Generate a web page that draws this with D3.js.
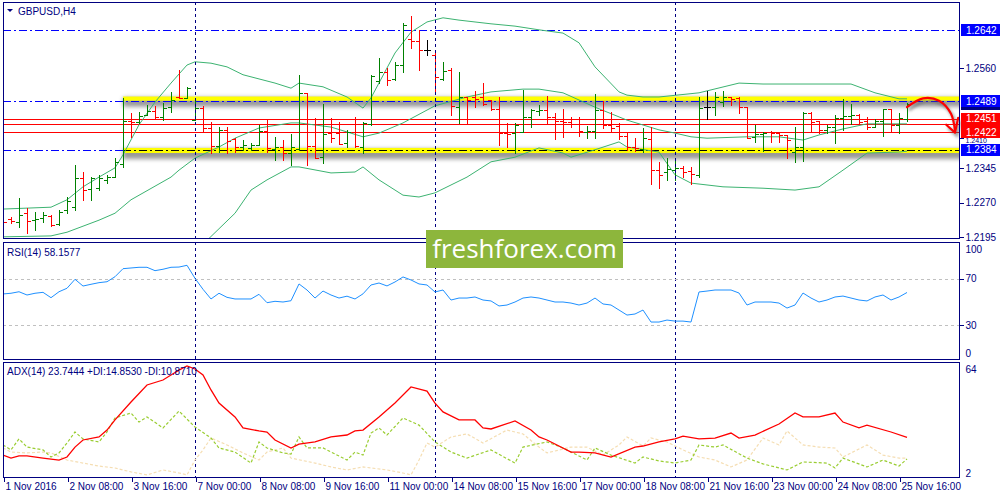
<!DOCTYPE html>
<html><head><meta charset="utf-8">
<script src="https://cdn.jsdelivr.net/npm/d3@7"></script>
<style>
body{margin:0;background:#fff}
svg{display:block}
text{font-family:"Liberation Sans",Arial,sans-serif;font-size:10px}
</style>
</head><body>
<svg id="c" width="1000" height="500"></svg>
<script>
// ---------- DATA ----------
const symbol = "GBPUSD,H4";
const opens = [1.2230,1.2234,1.2228,1.2247,1.2232,1.2237,1.2241,1.2224,1.2254,1.2260,
1.2323,1.2299,1.2301,1.2319,1.2325,1.2353,1.2446,1.2444,1.2459,1.2468,
1.2455,1.2476,1.2498,1.2496,1.2448,1.2474,1.2431,1.2392,1.2427,1.2407,
1.2390,1.2388,1.2394,1.2425,1.2386,1.2390,1.2377,1.2386,1.2507,1.2392,
1.2368,1.2420,1.2420,1.2399,1.2422,1.2390,1.2440,1.2533,1.2552,1.2537,
1.2567,1.2623,1.2619,1.2600,1.2589,1.2537,1.2556,1.2476,1.2498,1.2498,
1.2498,1.2492,1.2472,1.2420,1.2420,1.2422,1.2455,1.2468,1.2470,1.2455,
1.2446,1.2444,1.2440,1.2422,1.2425,1.2470,1.2438,1.2435,1.2414,1.2390,
1.2386,1.2407,1.2340,1.2336,1.2340,1.2345,1.2338,1.2330,1.2476,1.2476,
1.2487,1.2498,1.2496,1.2476,1.2412,1.2418,1.2422,1.2420,1.2416,1.2379,
1.2390,1.2463,1.2446,1.2427,1.2433,1.2453,1.2457,1.2459,1.2446,1.2433,
1.2446,1.2472,1.2438,1.2450];
const highs = [1.2243,1.2239,1.2280,1.2258,1.2250,1.2250,1.2243,1.2254,1.2282,1.2351,
1.2336,1.2325,1.2330,1.2330,1.2366,1.2496,1.2463,1.2466,1.2481,1.2479,
1.2485,1.2509,1.2556,1.2520,1.2496,1.2479,1.2444,1.2433,1.2433,1.2409,
1.2405,1.2399,1.2438,1.2448,1.2412,1.2405,1.2418,1.2546,1.2507,1.2453,
1.2483,1.2453,1.2444,1.2427,1.2455,1.2444,1.2546,1.2582,1.2561,1.2574,
1.2658,1.2673,1.2643,1.2621,1.2593,1.2574,1.2561,1.2552,1.2498,1.2511,
1.2528,1.2492,1.2498,1.2442,1.2442,1.2513,1.2472,1.2481,1.2500,1.2463,
1.2472,1.2455,1.2455,1.2435,1.2504,1.2489,1.2466,1.2442,1.2420,1.2409,
1.2431,1.2433,1.2358,1.2366,1.2362,1.2349,1.2347,1.2498,1.2511,1.2509,
1.2511,1.2498,1.2498,1.2476,1.2438,1.2422,1.2425,1.2420,1.2416,1.2433,
1.2466,1.2466,1.2446,1.2438,1.2459,1.2494,1.2483,1.2461,1.2455,1.2450,
1.2472,1.2472,1.2463,1.2485];
const lows = [1.2206,1.2226,1.2217,1.2204,1.2211,1.2228,1.2219,1.2222,1.2247,1.2254,
1.2276,1.2276,1.2297,1.2312,1.2325,1.2347,1.2412,1.2442,1.2459,1.2453,
1.2448,1.2466,1.2496,1.2496,1.2448,1.2422,1.2377,1.2379,1.2377,1.2379,
1.2384,1.2384,1.2394,1.2379,1.2362,1.2362,1.2351,1.2384,1.2351,1.2366,
1.2355,1.2401,1.2396,1.2390,1.2390,1.2377,1.2438,1.2528,1.2524,1.2535,
1.2552,1.2604,1.2556,1.2589,1.2507,1.2535,1.2459,1.2442,1.2442,1.2476,
1.2481,1.2470,1.2394,1.2390,1.2377,1.2422,1.2433,1.2459,1.2440,1.2407,
1.2412,1.2433,1.2414,1.2409,1.2409,1.2431,1.2425,1.2407,1.2384,1.2381,
1.2379,1.2310,1.2301,1.2319,1.2319,1.2325,1.2310,1.2325,1.2450,1.2459,
1.2479,1.2481,1.2463,1.2409,1.2401,1.2381,1.2401,1.2401,1.2366,1.2358,
1.2360,1.2425,1.2420,1.2420,1.2399,1.2427,1.2440,1.2442,1.2429,1.2433,
1.2414,1.2422,1.2420,1.2446];
const closes = [1.2228,1.2230,1.2243,1.2230,1.2234,1.2243,1.2222,1.2250,1.2273,1.2323,
1.2297,1.2323,1.2323,1.2325,1.2358,1.2446,1.2444,1.2457,1.2468,1.2455,
1.2474,1.2492,1.2496,1.2517,1.2474,1.2431,1.2392,1.2427,1.2403,1.2390,
1.2394,1.2394,1.2425,1.2388,1.2390,1.2377,1.2390,1.2507,1.2392,1.2366,
1.2418,1.2409,1.2396,1.2422,1.2392,1.2442,1.2543,1.2552,1.2535,1.2567,
1.2654,1.2619,1.2600,1.2600,1.2541,1.2554,1.2479,1.2498,1.2492,1.2494,
1.2483,1.2472,1.2420,1.2419,1.2438,1.2455,1.2470,1.2470,1.2455,1.2446,
1.2444,1.2440,1.2425,1.2425,1.2470,1.2438,1.2431,1.2414,1.2390,1.2388,
1.2409,1.2340,1.2330,1.2342,1.2345,1.2336,1.2332,1.2474,1.2476,1.2498,
1.2498,1.2494,1.2476,1.2409,1.2418,1.2420,1.2420,1.2416,1.2405,1.2390,
1.2463,1.2444,1.2427,1.2433,1.2453,1.2457,1.2459,1.2444,1.2433,1.2446,
1.2472,1.2438,1.2453,1.2483];

// Bollinger bands: [bar index, price]
const bbUpper = [[0,1.2256],[6,1.2260],[8,1.2276],[10,1.2304],[12,1.2325],[14,1.2345],[15,1.2373],[17,1.2438],[19,1.2487],[21,1.2528],[23,1.2567],[24,1.2574],[26,1.2571],[28,1.2563],[30,1.2546],[34,1.2528],[36,1.2517],[37,1.2528],[40,1.2520],[43,1.2498],[45,1.2474],[46,1.2496],[49,1.2593],[51,1.2638],[53,1.2660],[55,1.2669],[57,1.2664],[61,1.2656],[64,1.2651],[67,1.2643],[70,1.2636],[72,1.2615],[74,1.2563],[77,1.2509],[78,1.2502],[80,1.2498],[82,1.2498],[87,1.2507],[92,1.2528],[95,1.2526],[100,1.2526],[106,1.2526],[109,1.2507],[112,1.2494],[113,1.2494]];
const bbMiddle = [[0,1.2196],[6,1.2198],[8,1.2206],[12,1.2232],[14,1.2247],[16,1.2276],[21,1.2325],[22,1.2340],[24,1.2366],[27,1.2390],[29,1.2409],[32,1.2431],[36,1.2442],[37,1.2442],[41,1.2433],[45,1.2412],[47,1.2420],[50,1.2442],[54,1.2479],[58,1.2498],[61,1.2509],[65,1.2515],[67,1.2515],[70,1.2507],[74,1.2476],[78,1.2448],[82,1.2427],[84,1.2420],[86,1.2412],[88,1.2409],[93,1.2412],[97,1.2412],[100,1.2405],[102,1.2416],[105,1.2429],[108,1.2440],[111,1.2440],[113,1.2440]];
const bbLower = [[24,1.2146],[25,1.2180],[29,1.2247],[31,1.2297],[33,1.2319],[36,1.2347],[37,1.2347],[41,1.2334],[44,1.2336],[45,1.2347],[47,1.2319],[50,1.2286],[52,1.2282],[54,1.2291],[58,1.2325],[61,1.2358],[64,1.2368],[67,1.2388],[70,1.2377],[71,1.2368],[74,1.2384],[77,1.2401],[78,1.2390],[82,1.2379],[84,1.2330],[86,1.2312],[90,1.2304],[95,1.2301],[99,1.2297],[102,1.2304],[105,1.2340],[108,1.2377],[112,1.2379],[113,1.2381]];

const rsi = [56.9,57.5,58.8,56.0,57.5,58.3,53.7,58.8,61.8,69.5,
63.7,65.2,66.6,67.4,71.7,78.6,79.2,79.8,79.8,76.9,
78.1,79.8,80.0,81.5,70.3,60.9,52.6,57.5,54.0,52.6,
52.6,52.6,56.6,49.4,50.6,50.0,51.1,65.5,60.3,53.4,
59.4,56.0,53.4,55.0,52.6,57.0,64.6,66.3,63.8,67.2,
71.5,68.9,65.5,64.6,58.6,60.3,51.7,53.4,53.4,54.3,
51.7,50.9,46.6,47.4,50.0,53.4,54.3,53.4,51.7,50.0,
50.0,49.1,47.4,49.1,53.4,48.3,47.4,43.1,38.8,39.7,
43.1,32.8,32.8,34.5,33.6,33.6,32.8,58.6,59.4,60.3,
60.3,60.3,57.7,47.4,50.0,50.0,50.0,49.1,44.8,47.4,
57.7,53.4,50.0,51.7,54.3,55.1,53.4,51.7,50.9,54.3,
56.0,51.7,54.3,58.16];

const adx = [[0,13.8],[1,12.1],[2,13.3],[3,13.3],[5,12.1],[7,11.0],[8,12.7],[9,18.3],[10,22.3],[12,24.0],[13,27.9],[14,33.6],[16,43.7],[18,53.3],[20,56.1],[21,58.9],[22,61.7],[23,64.0],[24,62.3],[25,58.9],[26,50.5],[27,43.1],[29,35.3],[30,29.1],[32,27.4],[33,26.8],[34,22.3],[36,17.8],[37,20.0],[39,21.2],[41,24.0],[43,25.1],[44,27.4],[45,27.9],[47,35.3],[49,43.1],[51,52.2],[53,49.9],[54,43.1],[55,38.1],[57,33.6],[59,33.6],[60,29.1],[61,28.5],[64,33.0],[66,27.9],[67,24.0],[68,22.3],[71,15.5],[72,15.5],[74,15.0],[76,12.7],[79,18.3],[80,18.9],[82,21.2],[84,22.9],[85,24.5],[87,22.9],[89,23.4],[91,26.2],[92,23.4],[94,25.1],[97,31.3],[99,37.5],[100,35.3],[102,35.3],[104,37.5],[105,32.4],[107,29.1],[108,30.7],[111,26.8],[113,23.74]];
const diGreen = [[0,19.5],[1,16.7],[2,22.9],[3,18.3],[5,16.7],[6,12.7],[7,15.0],[8,20.6],[9,26.8],[10,22.9],[12,21.2],[13,26.8],[14,34.7],[16,37.5],[17,32.4],[18,35.3],[20,29.1],[22,38.6],[24,29.6],[26,23.4],[27,17.8],[29,15.5],[31,9.3],[32,21.2],[33,17.8],[35,15.0],[36,14.4],[37,24.0],[38,17.8],[40,17.8],[43,11.0],[44,15.5],[45,13.8],[46,26.2],[47,29.1],[48,25.1],[50,34.7],[52,30.7],[54,21.2],[56,15.5],[58,12.1],[61,16.7],[64,9.3],[65,18.3],[68,21.2],[70,17.8],[73,11.0],[74,17.8],[76,13.8],[79,9.3],[80,12.7],[82,10.5],[84,9.3],[86,11.0],[87,19.5],[89,18.3],[90,19.5],[93,12.1],[95,8.8],[98,5.4],[100,9.9],[103,9.3],[104,6.5],[105,12.1],[108,7.1],[110,11.0],[112,7.6],[113,11.6]];
const diWheat = [[0,17.8],[1,15.5],[3,15.0],[5,15.5],[6,15.0],[8,11.0],[10,9.3],[12,7.6],[14,6.5],[16,4.3],[18,2.6],[20,5.4],[22,3.7],[23,2.6],[24,11.0],[25,16.7],[26,23.4],[28,19.5],[30,15.0],[32,11.0],[33,15.5],[35,17.8],[36,12.1],[39,9.3],[41,7.1],[43,5.4],[45,7.1],[48,5.4],[50,3.7],[51,2.6],[52,11.0],[53,20.6],[54,18.3],[56,24.0],[58,25.7],[60,20.6],[63,27.9],[65,25.7],[67,18.3],[68,15.0],[71,18.3],[73,18.3],[75,13.8],[77,19.5],[78,24.0],[80,18.9],[81,23.4],[83,21.2],[85,16.7],[87,12.7],[89,11.0],[91,7.1],[93,11.0],[95,23.4],[97,19.5],[98,27.4],[100,19.5],[102,18.3],[104,17.8],[105,12.7],[108,19.5],[110,13.8],[112,12.1],[113,12.1]];

const priceTicks = [1.2560,1.2410,1.2345,1.2270,1.2195];
const blueLevels = [1.2642,1.2489,1.2384];
const redLevels = [1.2439,1.2451,1.2422];
const labelledRed = [1.2451,1.2422];
const bidPrice = 1.2483;
const zoneUpper = [1.2499,1.2490];
const zoneLower = [1.2388,1.2377];
const zoneStart = 15;
const rsiTicks = [100,70,30,0];
const rsiLevels = [70,30];
const adxTicks = [64,2];
const xTickIdx = [0,8,16,24,32,40,48,56,64,72,80,88,96,104,112];
const xTickLabels = ["1 Nov 2016","2 Nov 08:00","3 Nov 16:00","7 Nov 00:00","8 Nov 08:00","9 Nov 16:00","11 Nov 00:00","14 Nov 08:00","15 Nov 16:00","17 Nov 00:00","18 Nov 08:00","21 Nov 16:00","23 Nov 00:00","24 Nov 08:00","25 Nov 16:00"];
const separatorIdx = [24,54,84];
const arrowPath = [[113,1.2476],[115,1.2495],[117,1.2490],[118.5,1.2462],[119,1.2424]];
const arrowHead = [[117.9,1.2438],[119,1.2421],[119.4,1.2453]];
const rsiLabel = "RSI(14) 58.1577";
const adxLabel = "ADX(14) 23.7444 +DI:14.8530 -DI:10.8710";

// ---------- LAYOUT ----------
const L=3, R=960, NAVY="#000080";
const PM={t:2,b:239}, PR={t:242,b:360}, PA={t:362,b:478};
const svg = d3.select("#c");
const x = d3.scaleLinear().domain([0,113]).range([3,907]);
const y = d3.scaleLinear().domain([1.2195,1.2642]).range([237.3,30.3]);
const yR = d3.scaleLinear().domain([0,100]).range([360.25,243.75]);
const yA = d3.scaleLinear().domain([2,64]).range([476,366]);

const defs = svg.append("defs");
[["cm",PM],["cr",PR],["ca",PA]].forEach(([id,p])=>{
  defs.append("clipPath").attr("id",id).append("rect").attr("x",L).attr("y",p.t).attr("width",R-L).attr("height",p.b-p.t);
});
const sh = defs.append("filter").attr("id","shadow").attr("x","-10%").attr("y","-100%").attr("width","120%").attr("height","400%");
sh.append("feGaussianBlur").attr("stdDeviation",2.2);
const sh2 = defs.append("filter").attr("id","ashadow").attr("x","-50%").attr("y","-50%").attr("width","200%").attr("height","200%");
sh2.append("feGaussianBlur").attr("stdDeviation",1.5);

svg.append("rect").attr("width",1000).attr("height",500).attr("fill","#fff");

// ---------- MAIN PANEL ----------
const gm = svg.append("g").attr("clip-path","url(#cm)");
[zoneUpper,zoneLower].forEach(z=>{
  gm.append("rect").attr("x",x(zoneStart)).attr("y",y(z[0])+1).attr("width",R-x(zoneStart)+4)
    .attr("height",y(z[1])-y(z[0])+5).attr("fill","#777").attr("opacity",0.75).attr("filter","url(#shadow)");
  gm.append("rect").attr("x",x(zoneStart)).attr("y",y(z[0])).attr("width",R-x(zoneStart))
    .attr("height",y(z[1])-y(z[0])).attr("fill","#ffff00");
});
const hl = gm.append("g").attr("shape-rendering","crispEdges");
blueLevels.forEach((p,k)=>{
  const yy=Math.round(y(p))+0.5;
  const xe = (k===2)? x(zoneStart) : R;
  hl.append("line").attr("x1",L).attr("x2",xe).attr("y1",yy).attr("y2",yy)
    .attr("stroke","#0000ff").attr("stroke-dasharray","8,3,2,3");
});
{ const yy=Math.round(y(blueLevels[2]))+0.5;
  hl.append("line").attr("x1",x(zoneStart)).attr("x2",R).attr("y1",yy).attr("y2",yy)
    .attr("stroke","#000").attr("stroke-dasharray","8,3,2,3"); }
redLevels.forEach(p=>{
  const yy=Math.round(y(p))+0.5;
  hl.append("line").attr("x1",L).attr("x2",R).attr("y1",yy).attr("y2",yy).attr("stroke","#ff0000");
});

// separators (all panels)
const gs = svg.append("g").attr("shape-rendering","crispEdges");
separatorIdx.forEach(i=>{
  const xx=Math.round(x(i))+0.5;
  gs.append("line").attr("x1",xx).attr("x2",xx).attr("y1",PM.t).attr("y2",PA.b)
    .attr("stroke",NAVY).attr("stroke-dasharray","3,3");
});

// bollinger
const lineP = d3.line().x(d=>x(d[0])).y(d=>y(d[1]));
[bbUpper,bbMiddle,bbLower].forEach(b=>{
  gm.append("path").attr("d",lineP(b)).attr("fill","none").attr("stroke","#3cb371").attr("stroke-width",1);
});

// bars
const bars = opens.map((o,i)=>({i,o,h:highs[i],l:lows[i],c:closes[i]}));
const col = d => d.c>d.o ? "#008000" : (d.c<d.o ? "#ff0000" : "#000000");
const gb = gm.append("g").attr("shape-rendering","crispEdges");
const bx = d => Math.round(x(d.i))+0.5;
gb.selectAll("line.hl").data(bars).join("line").attr("class","hl")
  .attr("x1",bx).attr("x2",bx).attr("y1",d=>Math.round(y(d.h))).attr("y2",d=>Math.round(y(d.l))+1).attr("stroke",col);
gb.selectAll("line.op").data(bars).join("line").attr("class","op")
  .attr("x1",d=>bx(d)-3.5).attr("x2",d=>bx(d)).attr("y1",d=>Math.round(y(d.o))+0.5).attr("y2",d=>Math.round(y(d.o))+0.5).attr("stroke",col);
gb.selectAll("line.cl").data(bars).join("line").attr("class","cl")
  .attr("x1",d=>bx(d)).attr("x2",d=>bx(d)+3.5).attr("y1",d=>Math.round(y(d.c))+0.5).attr("y2",d=>Math.round(y(d.c))+0.5).attr("stroke",col);

// arrow
const lineA = d3.line().x(d=>x(d[0])).y(d=>y(d[1])).curve(d3.curveCatmullRom);
const lineH = d3.line().x(d=>x(d[0])).y(d=>y(d[1]));
const ga = svg.append("g");
const ash = ga.append("g").attr("transform","translate(2,3)").attr("filter","url(#ashadow)").attr("opacity",0.6);
ash.append("path").attr("d",lineA(arrowPath)).attr("fill","none").attr("stroke","#555").attr("stroke-width",2.5);
ash.append("path").attr("d",lineH(arrowHead)).attr("fill","none").attr("stroke","#555").attr("stroke-width",2.5);
ga.append("path").attr("d",lineA(arrowPath)).attr("fill","none").attr("stroke","#ff0000").attr("stroke-width",2.2).attr("stroke-linecap","round");
ga.append("path").attr("d",lineH(arrowHead)).attr("fill","none").attr("stroke","#ff0000").attr("stroke-width",2.2).attr("stroke-linecap","round").attr("stroke-linejoin","round");

// ---------- RSI PANEL ----------
const gr = svg.append("g").attr("clip-path","url(#cr)");
rsiLevels.forEach(v=>{
  const yy=Math.round(yR(v))+0.5;
  gr.append("line").attr("x1",L).attr("x2",R).attr("y1",yy).attr("y2",yy)
    .attr("stroke","#c0c0c0").attr("stroke-dasharray","3,3").attr("shape-rendering","crispEdges");
});
gr.append("path").attr("d",d3.line().x((d,i)=>x(i)).y(d=>yR(d))(rsi))
  .attr("fill","none").attr("stroke","#1e90ff").attr("stroke-width",1);

// ---------- ADX PANEL ----------
const gx = svg.append("g").attr("clip-path","url(#ca)");
const lineX = d3.line().x(d=>x(d[0])).y(d=>yA(d[1]));
gx.append("path").attr("d",lineX(diWheat)).attr("fill","none").attr("stroke","#f5deb3").attr("stroke-width",1.2).attr("stroke-dasharray","3,2");
gx.append("path").attr("d",lineX(diGreen)).attr("fill","none").attr("stroke","#9acd32").attr("stroke-width",1.2).attr("stroke-dasharray","3,2");
gx.append("path").attr("d",lineX(adx)).attr("fill","none").attr("stroke","#ff0000").attr("stroke-width",1.3);

// ---------- BORDERS ----------
const gf = svg.append("g").attr("shape-rendering","crispEdges");
[PM,PR,PA].forEach(p=>{
  gf.append("rect").attr("x",L+0.5).attr("y",p.t+0.5).attr("width",R-L-1).attr("height",p.b-p.t-1)
    .attr("fill","none").attr("stroke",NAVY);
});

// ---------- AXES ----------
function styleAxis(g){
  g.select(".domain").remove();
  g.selectAll(".tick line").attr("stroke",NAVY);
  g.selectAll(".tick text").attr("fill",NAVY).attr("x",6).style("font-size","10px").style("font-family","Liberation Sans, Arial, sans-serif");
}
const ap = svg.append("g").attr("transform",`translate(${R-0.5},0)`).attr("shape-rendering","crispEdges")
  .call(d3.axisRight(y).tickValues(priceTicks).tickSize(4).tickFormat(d3.format(".4f"))).call(styleAxis);
// 1.2410 sits mostly under the red level box: show only its lower sliver, in smaller type
ap.selectAll(".tick").filter(d=>d===1.2410).select("text").attr("dy","0.75em").style("font-size","7px");
const ar = svg.append("g").attr("transform",`translate(${R-0.5},0)`).attr("shape-rendering","crispEdges")
  .call(d3.axisRight(yR).tickValues(rsiTicks).tickSize(4).tickFormat(d3.format("d"))).call(styleAxis);
ar.selectAll(".tick").filter(d=>d===100).select("text").attr("dy","0.9em");
ar.selectAll(".tick").filter(d=>d===0).select("text").attr("dy","-0.35em");
ar.selectAll(".tick").filter(d=>d===100||d===0).select("line").remove();
const aa = svg.append("g").attr("transform",`translate(${R-0.5},0)`).attr("shape-rendering","crispEdges")
  .call(d3.axisRight(yA).tickValues(adxTicks).tickSize(4).tickFormat(d3.format("d"))).call(styleAxis);
aa.selectAll(".tick").filter(d=>d===64).select("text").attr("dy","0.65em");
aa.selectAll(".tick").filter(d=>d===2).select("text").attr("dy","0.0em");
aa.selectAll(".tick line").remove();

// x axis
const xa = svg.append("g").attr("transform",`translate(0,${PA.b})`).attr("shape-rendering","crispEdges")
  .call(d3.axisBottom(x).tickValues(xTickIdx).tickSize(4).tickFormat((d,i)=>xTickLabels[i]));
xa.select(".domain").remove();
xa.selectAll(".tick line").attr("stroke",NAVY).attr("transform","translate(0.5,0)");
xa.selectAll(".tick text").attr("fill",NAVY).attr("text-anchor","start").attr("x",2).attr("y",5).attr("dy","0.71em")
  .style("font-size","10px").style("font-family","Liberation Sans, Arial, sans-serif");

// price level label boxes
function box(p,fill,withText){
  const yy=y(p);
  svg.append("rect").attr("x",R+1).attr("y",Math.round(yy)-6).attr("width",40).attr("height",12).attr("fill",fill);
  if(withText) svg.append("text").attr("x",R+6).attr("y",yy).attr("dy","0.35em").attr("fill","#fff").text(d3.format(".4f")(p));
}
box(bidPrice,NAVY,false);
blueLevels.forEach(p=>box(p,"#0000ff",true));
redLevels.forEach(p=>box(p,"#ff0000",labelledRed.includes(p)));

// ---------- LABELS ----------
svg.append("path").attr("d","M7,9L13,9L10,12Z").attr("fill",NAVY);
svg.append("text").attr("x",18).attr("y",11).attr("dy","0.35em").attr("fill",NAVY).text(symbol);
svg.append("text").attr("x",7).attr("y",252).attr("dy","0.35em").attr("fill",NAVY).text(rsiLabel);
svg.append("text").attr("x",7).attr("y",371.5).attr("dy","0.35em").attr("fill",NAVY).text(adxLabel);

// logo
svg.append("rect").attr("x",426).attr("y",230).attr("width",197).attr("height",38).attr("fill","#8db63c");
svg.append("text").attr("x",524.5).attr("y",249).attr("dy","0.35em").attr("text-anchor","middle")
  .attr("fill","#fff").style("font-family","'Open Sans', sans-serif").style("font-size","26px").text("freshforex.com");
</script>
</body></html>
